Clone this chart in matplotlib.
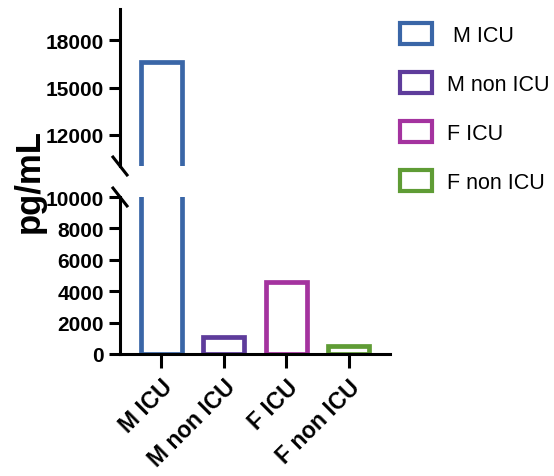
import matplotlib
matplotlib.use('Agg')
import matplotlib.pyplot as plt
from matplotlib.patches import Patch

# data
groups = ['M ICU', 'M non ICU', 'F ICU', 'F non ICU']
legend_labels = [' M ICU', 'M non ICU', 'F ICU', 'F non ICU']
values = [16600, 1100, 4600, 480]
colors = ['#3A66A7', '#5E3C9B', '#A4339F', '#5F9C35']
top_ticks = [12000, 15000, 18000]
bottom_ticks = [0, 2000, 4000, 6000, 8000, 10000]

plt.rcParams['font.family'] = ['Liberation Sans', 'DejaVu Sans']

fig = plt.figure(figsize=(5.54, 4.77), dpi=100)
ax_top = fig.add_axes([0.2166, 0.6499, 0.4874, 0.329])
ax_bot = fig.add_axes([0.2166, 0.2558, 0.4874, 0.3291])

x = range(len(groups))
for ax in (ax_top, ax_bot):
    ax.bar(x, values, width=0.66, color='white', edgecolor=colors, linewidth=3.4)
    ax.set_xlim(-0.66, 3.66)
    ax.spines['top'].set_visible(False)
    ax.spines['right'].set_visible(False)
    ax.spines['left'].set_linewidth(2.2)
    ax.spines['bottom'].set_linewidth(2.2)
    ax.tick_params(axis='both', width=2.2, length=8, labelsize=15)

ax_top.set_ylim(10000, 20000)
ax_top.set_yticks(top_ticks)
ax_top.spines['bottom'].set_visible(False)
ax_top.tick_params(axis='x', bottom=False, labelbottom=False)

ax_bot.set_ylim(0, 10000)
ax_bot.set_yticks(bottom_ticks)
ax_bot.set_xticks(list(x))
ax_bot.set_xticklabels(groups, rotation=45, ha='right', va='top',
                       rotation_mode='anchor', fontweight='bold', fontsize=16.5)
ax_bot.tick_params(axis='x', length=10, pad=5)
for ax in (ax_top, ax_bot):
    for t in ax.get_yticklabels():
        t.set_fontweight('bold')

# break marks
dx, dy = 0.026, 0.057
ax_top.plot([-dx, dx], [dy, -dy], transform=ax_top.transAxes, color='black',
            linewidth=2.2, clip_on=False)
ax_bot.plot([-dx, dx], [1 + dy, 1 - dy], transform=ax_bot.transAxes, color='black',
            linewidth=2.2, clip_on=False)

fig.text(0.052, 0.6205, 'pg/mL', rotation=90, fontsize=25, fontweight='bold',
         ha='center', va='center')

handles = [Patch(facecolor='white', edgecolor=c, linewidth=3) for c in colors]
fig.legend(handles, legend_labels, loc='upper left', bbox_to_anchor=(0.722, 0.949),
           frameon=False, prop={'size': 15.5},
           handlelength=1.5, handleheight=1.1, handletextpad=0.7,
           labelspacing=1.22, borderpad=0, borderaxespad=0)

fig.savefig('out.png', dpi=100)
